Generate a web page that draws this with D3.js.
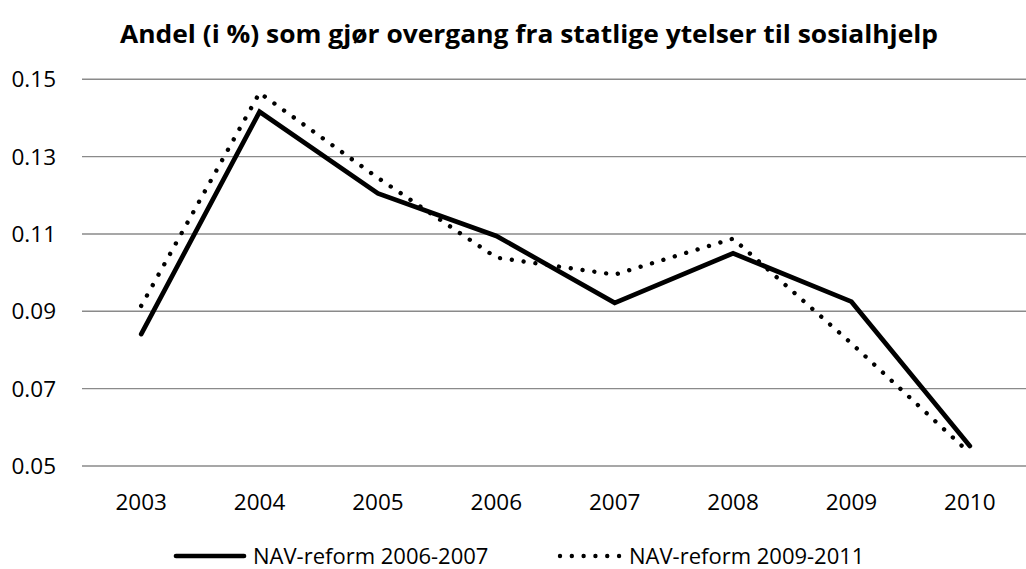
<!DOCTYPE html>
<html>
<head>
<meta charset="utf-8">
<script src="https://cdn.jsdelivr.net/npm/d3@7"></script>
<style>
  body { margin: 0; background: #fff; }
  svg { display: block; font-family: "Open Sans", "Noto Sans", sans-serif; }
</style>
</head>
<body>
<div id="chart"></div>
<script>
// DATA
var years = ['2003', '2004', '2005', '2006', '2007', '2008', '2009', '2010'];
var reform0607 = [0.0841, 0.1416, 0.1205, 0.1095, 0.0922, 0.1050, 0.0925, 0.0552];
var reform0911 = [0.0914, 0.1465, 0.1245, 0.1039, 0.0995, 0.1088, 0.0817, 0.0533];
var yTicks = [0.05, 0.07, 0.09, 0.11, 0.13, 0.15];
var seriesNames = ['NAV-reform 2006-2007', 'NAV-reform 2009-2011'];
var title = 'Andel (i %) som gjør overgang fra statlige ytelser til sosialhjelp';

var width = 1026;
var height = 569;

var svg = d3.select('#chart')
  .append('svg')
  .attr('width', width)
  .attr('height', height);

// SCALES
var x = d3.scaleBand()
  .domain(years)
  .range([82, 1029]);

var y = d3.scaleLinear()
  .domain([0.05, 0.15])
  .range([466, 79.3]);

// TITLE
svg.append('text')
  .attr('x', 120)
  .attr('y', 43)
  .attr('textLength', 818)
  .attr('lengthAdjust', 'spacingAndGlyphs')
  .style('font-size', '25px')
  .style('font-weight', 'bold')
  .text(title);

// GRIDLINES + Y LABELS
svg.selectAll('.grid')
  .data(yTicks)
  .enter()
  .append('line')
  .attr('x1', 82)
  .attr('x2', 1029)
  .attr('y1', function(d) { return y(d); })
  .attr('y2', function(d) { return y(d); })
  .attr('stroke', '#8a8a8a')
  .attr('stroke-width', 1.4);

svg.selectAll('.ylab')
  .data(yTicks)
  .enter()
  .append('text')
  .attr('x', 56)
  .attr('y', function(d) { return y(d); })
  .attr('dy', '0.35em')
  .attr('text-anchor', 'end')
  .style('font-size', '22.5px')
  .text(function(d) { return d.toFixed(2); });

// X LABELS
svg.selectAll('.xlab')
  .data(years)
  .enter()
  .append('text')
  .attr('x', function(d) { return x(d) + x.bandwidth() / 2; })
  .attr('y', 510)
  .attr('text-anchor', 'middle')
  .style('font-size', '22.5px')
  .text(function(d) { return d; });

// LINES
var line = d3.line()
  .x(function(d, i) { return x(years[i]) + x.bandwidth() / 2; })
  .y(function(d) { return y(d); });

svg.append('path')
  .datum(reform0911)
  .attr('d', line)
  .attr('fill', 'none')
  .attr('stroke', '#000')
  .attr('stroke-width', 4.4)
  .attr('stroke-linecap', 'round')
  .attr('stroke-dasharray', '0.01 11.9');

svg.append('path')
  .datum(reform0607)
  .attr('d', line)
  .attr('fill', 'none')
  .attr('stroke', '#000')
  .attr('stroke-width', 4.7)
  .attr('stroke-linejoin', 'miter')
  .attr('stroke-linecap', 'round');

// LEGEND
var legend = svg.append('g');
legend.append('line')
  .attr('x1', 176).attr('x2', 244)
  .attr('y1', 556).attr('y2', 556)
  .attr('stroke', '#000')
  .attr('stroke-width', 4.7)
  .attr('stroke-linecap', 'round');
legend.append('text')
  .attr('x', 253)
  .attr('y', 556)
  .attr('dy', '0.35em')
  .style('font-size', '22px')
  .text(seriesNames[0]);

legend.append('line')
  .attr('x1', 560).attr('x2', 621)
  .attr('y1', 556).attr('y2', 556)
  .attr('stroke', '#000')
  .attr('stroke-width', 4.4)
  .attr('stroke-linecap', 'round')
  .attr('stroke-dasharray', '0.01 11.8');
legend.append('text')
  .attr('x', 629)
  .attr('y', 556)
  .attr('dy', '0.35em')
  .style('font-size', '22px')
  .text(seriesNames[1]);
</script>
</body>
</html>
